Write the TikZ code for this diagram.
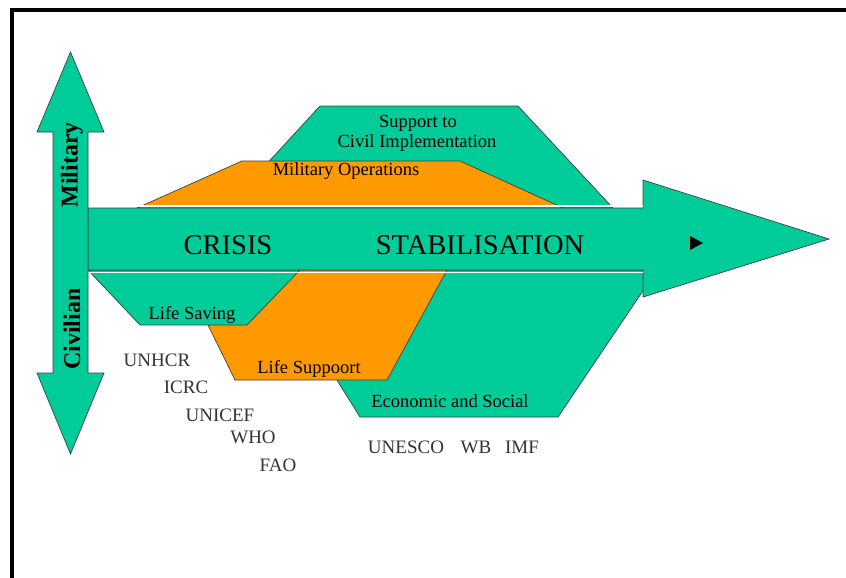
\documentclass[tikz,border=0pt]{standalone}
\usepackage{fontspec}
\setmainfont{Liberation Serif}
\usepackage{xcolor}
\usepackage{tikz}
\definecolor{phasegreen}{RGB}{0,204,153}
\definecolor{phaseorange}{RGB}{255,153,0}

\begin{document}
\begin{tikzpicture}[x=1pt, y=-1pt,
		greenshape/.style={fill=phasegreen, draw=black!75, line width=0.7pt, line join=miter},
		orangeshape/.style={fill=phaseorange, draw=black!75, line width=0.7pt},
		smalllabel/.style={font=\fontsize{18.5}{20}\selectfont, inner sep=0pt},
		orglabel/.style={font=\fontsize{19}{20}\selectfont, text=black!80, inner sep=0pt},
		phaselabel/.style={font=\fontsize{28.5}{30}\selectfont, inner sep=0pt},
		axislabel/.style={font=\bfseries\fontsize{24}{26}\selectfont, rotate=90, inner sep=0pt},
	]
		\useasboundingbox (0,0) rectangle (846,578);

		% frame
		\draw[line width=4pt] (12,578) -- (12,10) -- (846,10);

		% upper shapes
		\draw[greenshape] (226,208) -- (320,106) -- (518,106) -- (613,208) -- cycle;
		\draw[orangeshape] (137,208) -- (242,161) -- (460,161) -- (563,208) -- cycle;

		% lower shapes
		\draw[greenshape] (268,270) -- (657,270) -- (558,417) -- (360,417) -- cycle;
		\draw[orangeshape] (181,270) -- (447,270) -- (387,380) -- (235,380) -- cycle;
		\draw[greenshape] (88,270) -- (300,270) -- (247,325) -- (140,325) -- cycle;

		% main arrow
		\draw[greenshape] (88,208) -- (643,208) -- (643,180) -- (829,239)
			-- (643,297) -- (643,270) -- (88,270) -- cycle;
		\draw[white, line width=1.5pt] (88,206) -- (643,206);
		\draw[white, line width=1.5pt] (88,272.5) -- (643,272.5);
		\fill (690,236) -- (703,243) -- (690,250) -- cycle;

		% vertical arrow
		\draw[greenshape] (53,132) -- (37,132) -- (70.5,52) -- (104,132) -- (88,132)
			-- (88,373) -- (104,373) -- (70.5,454) -- (37,373) -- (53,373) -- cycle;

		% labels
		\node[axislabel] (military) at (72,165) {Military};
		\node[axislabel] (civilian) at (72,329) {Civilian};
		\node[phaselabel] (crisis) at (228,245) {CRISIS};
		\node[phaselabel] (stab) at (480,245) {STABILISATION};
		\node[smalllabel] (support) at (418,123) {Support to};
		\node[smalllabel] (civil) at (417,143) {Civil Implementation};
		\node[smalllabel] (milops) at (346,171) {Military Operations};
		\node[smalllabel] (saving) at (192,315) {Life Saving};
		\node[smalllabel] (lifesup) at (309,369) {Life Suppoort};
		\node[smalllabel] (econ) at (450,401) {Economic and Social};

		% organisations
		\node[orglabel] (unhcr) at (157,360) {UNHCR};
		\node[orglabel] (icrc) at (186,387) {ICRC};
		\node[orglabel] (unicef) at (220,415) {UNICEF};
		\node[orglabel] (who) at (253,437) {WHO};
		\node[orglabel] (fao) at (278,465) {FAO};
		\node[orglabel] (unesco) at (406,447) {UNESCO};
		\node[orglabel] (wb) at (476,447) {WB};
		\node[orglabel] (imf) at (522,447) {IMF};
	\end{tikzpicture}
\end{document}
